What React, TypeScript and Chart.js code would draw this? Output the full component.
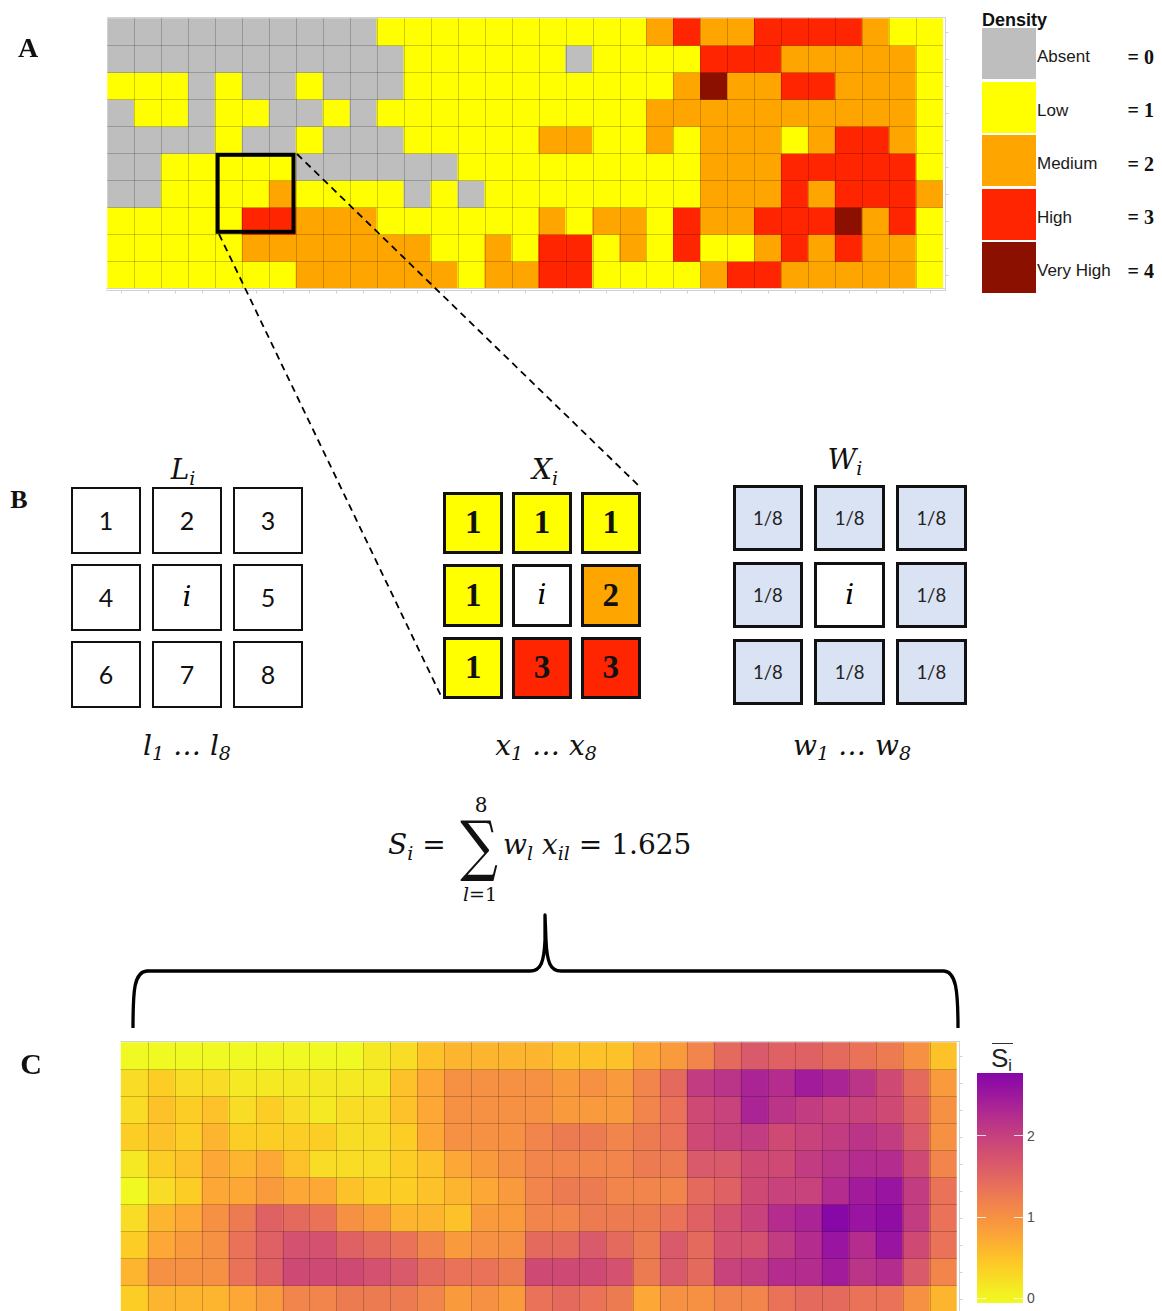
import React, { useEffect, useRef } from "react";
import { Chart, registerables } from "chart.js";

Chart.register(...registerables);

// ---------- data ----------
const COLUMNS = ["1","2","3","4","5","6","7","8","9","10","11","12","13","14","15","16","17","18","19","20","21","22","23","24","25","26","27","28","29","30","31"];
const ROWS = ["1","2","3","4","5","6","7","8","9","10"];

const DENSITY_LEVELS = ["Absent", "Low", "Medium", "High", "Very High"];
const DENSITY_SCORES = ["= 0", "= 1", "= 2", "= 3", "= 4"];
const DENSITY_COLORS = ["#BEBEBE", "#FFFF00", "#FFA500", "#FF2500", "#8B1000"];

// Panel A: density class per cell (0..4)
const densityRow01 = [0,0,0,0,0,0,0,0,0,0,1,1,1,1,1,1,1,1,1,1,2,3,2,2,3,3,3,3,2,1,1];
const densityRow02 = [0,0,0,0,0,0,0,0,0,0,0,1,1,1,1,1,1,0,1,1,1,1,3,3,3,2,2,2,2,2,1];
const densityRow03 = [1,1,1,0,1,0,0,1,0,0,0,1,1,1,1,1,1,1,1,1,1,2,4,2,2,3,3,2,2,2,1];
const densityRow04 = [0,1,1,0,1,1,0,0,1,0,1,1,1,1,1,1,1,1,1,1,2,2,2,2,2,2,2,2,2,2,1];
const densityRow05 = [0,0,0,0,1,0,0,1,0,0,0,1,1,1,1,1,2,2,1,1,2,1,2,2,2,1,2,3,3,2,1];
const densityRow06 = [0,0,1,1,1,1,1,0,0,0,0,0,0,1,1,1,1,1,1,1,1,1,2,2,2,3,3,3,3,3,1];
const densityRow07 = [0,0,1,1,1,1,2,1,1,1,1,0,1,0,1,1,1,1,1,1,1,1,2,2,2,3,2,3,3,3,2];
const densityRow08 = [1,1,1,1,1,3,3,2,2,2,1,1,1,1,1,1,2,1,2,2,1,3,2,2,3,3,3,4,2,3,1];
const densityRow09 = [1,1,1,1,1,2,2,2,2,2,2,2,1,1,2,1,3,3,1,2,1,3,1,1,2,3,2,3,2,2,1];
const densityRow10 = [1,1,1,1,1,1,1,2,2,2,2,2,2,1,2,2,3,3,1,1,1,1,2,3,3,2,2,2,2,2,1];
const DENSITY_GRID = [densityRow01, densityRow02, densityRow03, densityRow04, densityRow05, densityRow06, densityRow07, densityRow08, densityRow09, densityRow10];

// Panel C: mean neighbourhood score per cell
const smoothRow01 = [0,0,0,0,0,0,0,0,0,0.13,0.25,0.5,0.63,0.63,0.63,0.63,0.5,0.5,0.5,0.75,0.88,1.13,1.45,1.65,1.55,1.55,1.45,1.35,1.25,1.0,0.5];
const smoothRow02 = [0.25,0.38,0.25,0.25,0.13,0.13,0.13,0.13,0.13,0.13,0.5,0.75,1.0,1.0,1.0,1.0,0.88,1.0,0.88,1.13,1.45,2.05,2.15,2.35,2.25,2.45,2.35,2.15,1.85,1.45,0.88];
const smoothRow03 = [0.25,0.5,0.38,0.5,0.25,0.38,0.25,0.13,0.25,0.25,0.5,0.75,1.0,1.0,1.0,1.0,0.88,0.88,0.88,1.13,1.35,1.85,1.95,2.35,2.15,2.05,1.95,1.95,1.85,1.55,1.0];
const smoothRow04 = [0.38,0.5,0.38,0.63,0.38,0.38,0.38,0.38,0.25,0.25,0.38,0.75,1.0,1.0,1.0,1.13,1.25,1.25,1.13,1.25,1.35,1.85,1.95,2.05,1.85,1.95,2.05,2.15,2.05,1.65,1.0];
const smoothRow05 = [0.13,0.38,0.5,0.75,0.63,0.75,0.5,0.25,0.25,0.25,0.38,0.5,0.75,0.88,1.0,1.13,1.13,1.13,1.13,1.25,1.25,1.65,1.65,1.85,1.85,2.05,2.15,2.25,2.25,1.85,1.13];
const smoothRow06 = [0,0.25,0.38,0.75,0.75,0.88,0.75,0.75,0.5,0.38,0.38,0.5,0.63,0.75,0.88,1.13,1.25,1.25,1.13,1.13,1.13,1.45,1.55,1.85,1.95,1.95,2.25,2.45,2.55,2.05,1.35];
const smoothRow07 = [0.25,0.63,0.75,1.0,1.25,1.55,1.45,1.35,1.0,0.88,0.63,0.63,0.5,0.88,0.88,1.13,1.13,1.25,1.25,1.25,1.35,1.55,1.75,1.95,2.25,2.35,2.75,2.55,2.65,2.05,1.35];
const smoothRow08 = [0.38,0.75,0.88,1.0,1.35,1.55,1.75,1.75,1.55,1.45,1.35,1.13,0.88,1.0,1.0,1.45,1.45,1.65,1.45,1.25,1.65,1.45,1.75,1.75,2.05,2.25,2.55,2.25,2.55,1.85,1.35];
const smoothRow09 = [0.63,1.0,1.0,1.0,1.35,1.55,1.85,1.85,1.85,1.75,1.65,1.45,1.35,1.35,1.25,1.85,1.85,1.85,1.75,1.25,1.65,1.45,1.95,2.05,2.25,2.25,2.45,2.15,2.25,1.65,1.13];
const smoothRow10 = [0.38,0.63,0.63,0.63,0.75,0.88,1.13,1.13,1.25,1.25,1.25,1.13,0.88,1.0,0.88,1.35,1.45,1.35,1.25,0.75,1.0,1.0,1.13,1.13,1.35,1.45,1.45,1.35,1.35,1.0,0.63];
const SMOOTH_GRID = [smoothRow01, smoothRow02, smoothRow03, smoothRow04, smoothRow05, smoothRow06, smoothRow07, smoothRow08, smoothRow09, smoothRow10];

// Panel B
const FOCUS_ROW = 6;
const FOCUS_COL = 5;
const L_LABELS = ["1", "2", "3", "4", "i", "5", "6", "7", "8"];
const X_VALUES = [1, 1, 1, 1, null, 2, 1, 3, 3];
const W_LABELS = ["1/8", "1/8", "1/8", "1/8", "i", "1/8", "1/8", "1/8", "1/8"];
const S_RESULT = "1.625";

// colour bar
const BAR_TICKS = [0, 1, 2];
const BAR_MIN = -0.06;
const BAR_MAX = 2.77;

// ---------- colours ----------
const PLASMA = ["#0d0887","#2c0594","#41049d","#5402a3","#6a00a8","#7e03a8","#8f0da4","#a01a9c","#b12a90","#bf3984","#cc4778","#d6556d","#e16462","#ea7457","#f2844b","#f89540","#fca636","#feba2c","#fcce25","#f7e225","#f0f921"];
function hexRgb(h: string) {
  return [parseInt(h.slice(1, 3), 16), parseInt(h.slice(3, 5), 16), parseInt(h.slice(5, 7), 16)];
}
function plasmaAt(p: number) {
  const t = Math.max(0, Math.min(1, p)) * (PLASMA.length - 1);
  const i = Math.min(PLASMA.length - 2, Math.floor(t));
  const f = t - i;
  const a = hexRgb(PLASMA[i]);
  const b = hexRgb(PLASMA[i + 1]);
  const c = a.map((v, k) => Math.round(v + (b[k] - v) * f));
  return `rgb(${c[0]},${c[1]},${c[2]})`;
}
function smoothColor(v: number) {
  return plasmaAt(1 - (v / BAR_MAX) * 0.73);
}
function densityColor(v: number) {
  return DENSITY_COLORS[v];
}

// ---------- heatmap chart ----------
function Heatmap(props: any) {
  const { grid, colorOf, left, top, width, height, pad, focus } = props;
  const ref = useRef<HTMLCanvasElement>(null);
  useEffect(() => {
    const canvas = ref.current;
    if (!canvas) return;
    const nR = grid.length;
    const nC = COLUMNS.length;
    const datasets = grid.map((row: number[], r: number) => ({
      label: ROWS[r],
      data: row.map(() => [nR - 1 - r, nR - r]),
      backgroundColor: row.map(colorOf),
      borderWidth: 0,
      grouped: false,
      barPercentage: 1,
      categoryPercentage: 1,
    }));
    const plugin = {
      id: "cellGrid",
      afterDatasetsDraw(chart: any) {
        const { ctx, chartArea: a, scales } = chart;
        const xs = scales.x;
        const ys = scales.y;
        const half = (xs.getPixelForValue(1) - xs.getPixelForValue(0)) / 2;
        const colEdge = (k: number) =>
          k < nC ? xs.getPixelForValue(k) - half : xs.getPixelForValue(nC - 1) + half;
        ctx.save();
        ctx.lineWidth = 1;
        ctx.strokeStyle = "rgba(0,0,0,0.2)";
        ctx.beginPath();
        for (let k = 1; k < nC; k++) {
          const x = Math.round(colEdge(k)) + 0.5;
          ctx.moveTo(x, a.top);
          ctx.lineTo(x, a.bottom);
        }
        for (let k = 1; k < nR; k++) {
          const y = Math.round(ys.getPixelForValue(k)) + 0.5;
          ctx.moveTo(a.left, y);
          ctx.lineTo(a.right, y);
        }
        ctx.stroke();
        // light frame + axes
        ctx.strokeStyle = "#d2d2d2";
        ctx.beginPath();
        ctx.moveTo(a.left, Math.round(a.top) - 0.5);
        ctx.lineTo(a.right + 3, Math.round(a.top) - 0.5);
        const by = Math.round(a.bottom) + 2.5;
        ctx.moveTo(a.left - 1, Math.round(a.bottom) + 0.5);
        ctx.lineTo(a.right + 3, Math.round(a.bottom) + 0.5);
        ctx.moveTo(a.left - 1, by);
        ctx.lineTo(a.right + 3, by);
        for (let c = 0; c < nC; c++) {
          const x = Math.round(xs.getPixelForValue(c)) + 0.5;
          ctx.moveTo(x, by);
          ctx.lineTo(x, by + 3);
        }
        const rx = Math.round(a.right) + 2.5;
        ctx.moveTo(rx, a.top - 1);
        ctx.lineTo(rx, by);
        for (let r = 0; r < nR; r++) {
          const y = Math.round(ys.getPixelForValue(r + 0.5)) + 0.5;
          ctx.moveTo(rx, y);
          ctx.lineTo(rx + 3, y);
        }
        ctx.stroke();
        if (focus) {
          const x0 = colEdge(focus.col - 1);
          const x1 = colEdge(focus.col + 2);
          const y0 = ys.getPixelForValue(nR - focus.row + 1);
          const y1 = ys.getPixelForValue(nR - focus.row - 2);
          ctx.lineWidth = 4;
          ctx.strokeStyle = "#000";
          ctx.strokeRect(x0 + 2.5, y0 + 1.5, x1 - x0 - 5, y1 - y0 - 4);
        }
        ctx.restore();
      },
    };
    const chart = new Chart(canvas, {
      type: "bar",
      data: { labels: COLUMNS, datasets },
      options: {
        responsive: false,
        animation: false,
        devicePixelRatio: 1,
        events: [],
        layout: { padding: pad },
        plugins: { legend: { display: false }, tooltip: { enabled: false } },
        scales: {
          x: { display: false, offset: true },
          y: { display: false, min: 0, max: nR },
        },
      },
      plugins: [plugin],
    } as any);
    return () => chart.destroy();
  }, []);
  return (
    <canvas
      ref={ref}
      width={width}
      height={height}
      style={{ position: "absolute", left, top, width, height }}
    />
  );
}

// ---------- text helpers ----------
function Txt(props: any) {
  const { x, y, align = "center", style, children } = props;
  const tx = align === "center" ? "-50%" : align === "right" ? "-100%" : "0";
  return (
    <div
      style={{
        position: "absolute",
        left: x,
        top: y,
        transform: `translate(${tx}, -50%)`,
        lineHeight: 1,
        whiteSpace: "nowrap",
        ...style,
      }}
    >
      {children}
    </div>
  );
}
const Sub = (props: any) => (
  <span style={{ fontSize: props.size || "0.68em", position: "relative", top: props.drop || "0.3em" }}>
    {props.children}
  </span>
);

const MATH = "'DejaVu Serif', 'Liberation Serif', serif";
const mathItalic = { fontFamily: MATH, fontStyle: "italic" };

function NeighborGrid(props: any) {
  const { left, top, cw, ch, gx, gy, border, cells } = props;
  return (
    <div
      style={{
        position: "absolute",
        left,
        top,
        display: "grid",
        gridTemplateColumns: `repeat(3, ${cw}px)`,
        gridTemplateRows: `repeat(3, ${ch}px)`,
        columnGap: gx,
        rowGap: gy,
      }}
    >
      {cells.map((c: any, k: number) => (
        <div
          key={k}
          style={{
            boxSizing: "border-box",
            border: `${border}px solid #111`,
            background: c.bg,
            display: "flex",
            alignItems: "center",
            justifyContent: "center",
            lineHeight: 1,
            ...c.style,
          }}
        >
          {c.text}
        </div>
      ))}
    </div>
  );
}

function ColorBar() {
  const top = 1073.3;
  const h = 230;
  const left = 977.3;
  const w = 46;
  const stops: string[] = [];
  for (let k = 0; k <= 20; k++) {
    const v = BAR_MIN + ((BAR_MAX - BAR_MIN) * k) / 20;
    stops.push(`${smoothColor(v)} ${k * 5}%`);
  }
  const yOf = (v: number) => top + ((BAR_MAX - v) / (BAR_MAX - BAR_MIN)) * h;
  return (
    <>
      <div
        style={{
          position: "absolute",
          left,
          top,
          width: w,
          height: h,
          background: `linear-gradient(to top, ${stops.join(", ")})`,
        }}
      />
      {BAR_TICKS.map((t) => (
        <React.Fragment key={t}>
          <div style={{ position: "absolute", left, top: yOf(t) - 0.5, width: 9, height: 1, background: "rgba(255,255,255,0.8)" }} />
          <div style={{ position: "absolute", left: left + w - 9, top: yOf(t) - 0.5, width: 9, height: 1, background: "rgba(255,255,255,0.8)" }} />
          <Txt x={1027} y={yOf(t)} align="left" style={{ fontSize: 14, color: "#4d4d4d", fontFamily: "'Liberation Sans', Arial, sans-serif" }}>
            {String(t)}
          </Txt>
        </React.Fragment>
      ))}
      <div style={{ position: "absolute", left: 991.5, top: 1043, width: 21.5, height: 1.3, background: "#333" }} />
      <Txt x={991} y={1057.5} align="left" style={{ fontSize: 26, color: "#222", fontFamily: "'Liberation Sans', Arial, sans-serif" }}>
        S<Sub size="0.62em" drop="0.28em">i</Sub>
      </Txt>
    </>
  );
}

function DensityLegend() {
  return (
    <>
      <Txt x={982} y={20} align="left" style={{ fontSize: 18, fontWeight: "bold", color: "#111", fontFamily: "'Liberation Sans', Arial, sans-serif" }}>
        Density
      </Txt>
      {DENSITY_LEVELS.map((name, k) => {
        const t = 28.3 + k * 53.5;
        return (
          <React.Fragment key={name}>
            <div style={{ position: "absolute", left: 982.3, top: t, width: 53.4, height: 51, background: DENSITY_COLORS[k] }} />
            <Txt x={1037} y={t + 27.7} align="left" style={{ fontSize: 17, color: "#1a1a1a", fontFamily: "'Liberation Sans', Arial, sans-serif" }}>
              {name}
            </Txt>
            <Txt x={1154} y={t + 28.5} align="right" style={{ fontSize: 20, fontWeight: "bold", color: "#111", fontFamily: "'Liberation Serif', 'Times New Roman', serif" }}>
              {DENSITY_SCORES[k]}
            </Txt>
          </React.Fragment>
        );
      })}
    </>
  );
}

export default function App() {
  const lCells = L_LABELS.map((t) => ({
    text: t,
    bg: "#fff",
    style: t === "i" ? { ...mathItalic, fontSize: 28 } : { fontFamily: "Lato, 'Open Sans', sans-serif", fontSize: 25, color: "#111" },
  }));
  const xCells = X_VALUES.map((v) => ({
    text: v === null ? "i" : String(v),
    bg: v === null ? "#fff" : DENSITY_COLORS[v],
    style:
      v === null
        ? { ...mathItalic, fontSize: 28 }
        : { fontFamily: "'Liberation Serif', 'Times New Roman', serif", fontWeight: "bold", fontSize: 33, color: "#111" },
  }));
  const wCells = W_LABELS.map((t) => ({
    text: t,
    bg: t === "i" ? "#fff" : "#DAE3F3",
    style: t === "i" ? { ...mathItalic, fontSize: 28 } : { fontFamily: "Lato, 'Open Sans', sans-serif", fontSize: 18.5, color: "#222" },
  }));
  const panelLabel = { fontFamily: "'Liberation Serif', 'Times New Roman', serif", fontWeight: "bold", color: "#111" };

  return (
    <div
      style={{
        position: "absolute",
        left: 0,
        top: 0,
        width: 1162,
        height: 1311,
        overflow: "hidden",
        background: "#fff",
        fontFamily: "'Liberation Sans', Arial, sans-serif",
      }}
    >
      <Heatmap
        grid={DENSITY_GRID}
        colorOf={densityColor}
        left={0}
        top={0}
        width={960}
        height={305}
        pad={{ left: 107.3, top: 18.3, right: 17, bottom: 16.7 }}
        focus={{ row: FOCUS_ROW, col: FOCUS_COL }}
      />
      <DensityLegend />

      <Heatmap
        grid={SMOOTH_GRID}
        colorOf={smoothColor}
        left={0}
        top={1030}
        width={975}
        height={300}
        pad={{ left: 120.7, top: 12.3, right: 18.3, bottom: 17.7 }}
      />
      <ColorBar />

      <Txt x={28} y={48} style={{ ...panelLabel, fontSize: 28 }}>A</Txt>
      <Txt x={19} y={500} style={{ ...panelLabel, fontSize: 26 }}>B</Txt>
      <Txt x={31} y={1064} style={{ ...panelLabel, fontSize: 30 }}>C</Txt>

      {/* Panel B */}
      <NeighborGrid left={70.7} top={486.7} cw={70.5} ch={67} gx={10.5} gy={10.3} border={2.5} cells={lCells} />
      <NeighborGrid left={443.3} top={491.7} cw={60} ch={62.5} gx={8.7} gy={10} border={3} cells={xCells} />
      <NeighborGrid left={732.7} top={485} cw={70.5} ch={66} gx={11.2} gy={11} border={3} cells={wCells} />

      <Txt x={183} y={470} style={{ ...mathItalic, fontSize: 28, color: "#111" }}>
        L<Sub>i</Sub>
      </Txt>
      <Txt x={545} y={470} style={{ ...mathItalic, fontSize: 28, color: "#111" }}>
        X<Sub>i</Sub>
      </Txt>
      <Txt x={845} y={460} style={{ ...mathItalic, fontSize: 28, color: "#111" }}>
        W<Sub>i</Sub>
      </Txt>
      <Txt x={187} y={745.5} style={{ ...mathItalic, fontSize: 28, color: "#111" }}>
        l<Sub>1</Sub> … l<Sub>8</Sub>
      </Txt>
      <Txt x={546} y={745.5} style={{ ...mathItalic, fontSize: 28, color: "#111" }}>
        x<Sub>1</Sub> … x<Sub>8</Sub>
      </Txt>
      <Txt x={852} y={745.5} style={{ ...mathItalic, fontSize: 28, color: "#111" }}>
        w<Sub>1</Sub> … w<Sub>8</Sub>
      </Txt>

      {/* equation */}
      <Txt x={388} y={845} align="left" style={{ fontFamily: MATH, fontSize: 28, color: "#111" }}>
        <span style={{ fontStyle: "italic" }}>S</span>
        <Sub>
          <span style={{ fontStyle: "italic" }}>i</span>
        </Sub>
        {" ="}
      </Txt>
      <Txt x={481} y={805} style={{ fontFamily: MATH, fontSize: 20, color: "#111" }}>8</Txt>
      <Txt
        x={479}
        y={845.5}
        style={{ fontFamily: MATH, fontSize: 66, color: "#111", transform: "translate(-50%, -50%) scaleX(0.8)" }}
      >
        ∑
      </Txt>
      <Txt x={480} y={893.5} style={{ fontFamily: MATH, fontSize: 19, color: "#111" }}>
        <span style={{ fontStyle: "italic" }}>l</span>=1
      </Txt>
      <Txt x={503} y={845} align="left" style={{ fontFamily: MATH, fontSize: 28, color: "#111" }}>
        <span style={{ fontStyle: "italic" }}>w</span>
        <Sub>
          <span style={{ fontStyle: "italic" }}>l</span>
        </Sub>{" "}
        <span style={{ fontStyle: "italic" }}>x</span>
        <Sub>
          <span style={{ fontStyle: "italic" }}>il</span>
        </Sub>
        {" = " + S_RESULT}
      </Txt>

      <svg
        width={1162}
        height={1311}
        style={{ position: "absolute", left: 0, top: 0, pointerEvents: "none" }}
      >
        <line x1={297} y1={154} x2={638} y2={485} stroke="#000" strokeWidth={1.8} strokeDasharray="7 5" />
        <line x1={219} y1={234} x2={442} y2={698} stroke="#000" strokeWidth={1.8} strokeDasharray="7 5" />
        <path
          d="M133,1028 C133,990 134,972 147,971 L530,971 C541,971 544,962 545,940 L545,915 L546,940 C547,962 550,971 561,971 L944,971 C956,972 958,990 958,1028"
          fill="none"
          stroke="#000"
          strokeWidth={3.3}
          strokeLinejoin="round"
        />
      </svg>
    </div>
  );
}
